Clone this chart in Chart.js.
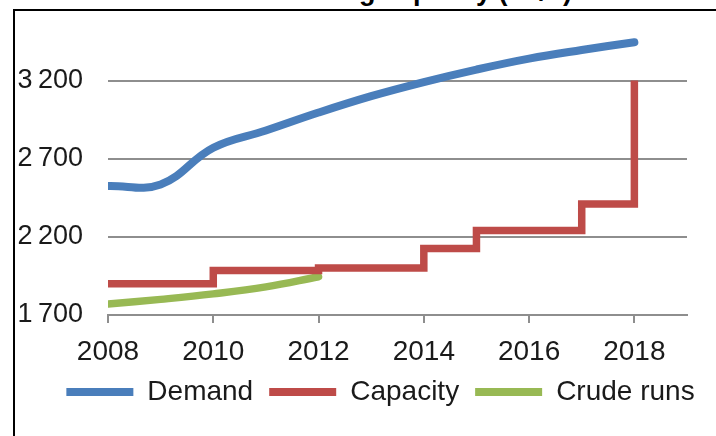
<!DOCTYPE html>
<html>
<head>
<meta charset="utf-8">
<script src="https://cdn.jsdelivr.net/npm/chart.js@4"></script>
<style>
  html, body { margin:0; padding:0; background:#fff; overflow:hidden; }
  #wrap { position:relative; width:716px; height:436px; overflow:hidden; }
  #title { position:absolute; left:107px; top:-22px; white-space:nowrap;
           font:bold 27px "Liberation Sans", Arial, sans-serif; line-height:27px; color:#000; }
  #frame { position:absolute; left:13px; top:9px; width:800px; height:600px;
           border-left:2px solid #000; border-top:2px solid #000; pointer-events:none; }
  canvas { position:absolute; left:0; top:0; }
</style>
</head>
<body>
<div id="wrap">
  <div id="title">Demand and refining capacity (kb/d)</div>
  <canvas id="chart" width="716" height="436"></canvas>
  <div id="frame"></div>
</div>
<script>
// valeurs
const years = [2008, 2009, 2010, 2011, 2012, 2013, 2014, 2015, 2016, 2017, 2018];
const demand = [2525, 2535, 2770, 2880, 2995, 3100, 3190, 3270, 3340, 3395, 3445];
const capacity = [1900, 1900, 1985, 1985, 2000, 2000, 2125, 2240, 2240, 2410, 3200];
const crudeRuns = [1770, 1800, 1835, 1880, 1945];
const xTicks = [2008, 2010, 2012, 2014, 2016, 2018];
const yTicks = [1700, 2200, 2700, 3200];

const fontName = '"Liberation Sans", Arial, sans-serif';
const textColor = '#1a1a1a';
const gridColor = '#8e8e8e';

function pts(vals){
    return vals.map((v,i)=>({x: years[i], y: v}));
}

function fmt(v){
    return String(v).replace(/\B(?=(\d{3})+$)/g, '\u2009');
}

// décale la légende vers la droite comme sur l'original
const legendShift = {
    id: 'legendShift',
    afterLayout(c){
        if(!c.legend) return;
        c.legend.left += 37;
        c.legend.right += 37;
    }
};

let ctx = document.getElementById('chart').getContext('2d');
let chart = new Chart(ctx, {
    type: 'line',
    data: {
        datasets: [
            { label: 'Demand', data: pts(demand), borderColor: '#4A7EBB', borderWidth: 8,
              tension: 0.4, pointRadius: 0, borderCapStyle: 'round' },
            { label: 'Capacity', data: pts(capacity), borderColor: '#BE4B48', borderWidth: 7.5,
              stepped: true, pointRadius: 0, borderJoinStyle: 'miter' },
            { label: 'Crude runs', data: pts(crudeRuns), borderColor: '#98B954', borderWidth: 7.5,
              tension: 0.4, pointRadius: 0, borderCapStyle: 'round' }
        ]
    },
    plugins: [legendShift],
    options: {
        animation: false,
        responsive: false,
        events: [],
        layout: { padding: { left: 0, right: 29, top: 18, bottom: 20 } },
        scales: {
            x: {
                type: 'linear', min: 2008, max: 2019,
                afterBuildTicks: s => { s.ticks = xTicks.map(v => ({value: v})); },
                afterFit: s => { s.height = 47; },
                grid: { drawOnChartArea: false, drawTicks: true, tickLength: 8, color: gridColor, lineWidth: 2 },
                border: { display: true, color: gridColor, width: 2 },
                ticks: { padding: 12, color: textColor, maxRotation: 0,
                         font: { family: fontName, size: 28 }, callback: v => String(v) }
            },
            y: {
                min: 1700, max: 3600,
                afterBuildTicks: s => { s.ticks = yTicks.map(v => ({value: v})); },
                afterFit: s => { s.width = 108; s.paddingTop = 0; s.paddingBottom = 0; },
                grid: { drawTicks: false, color: gridColor, lineWidth: 2 },
                border: { display: false },
                ticks: { padding: 25, color: textColor,
                         font: { family: fontName, size: 27 }, callback: v => fmt(v) }
            }
        },
        plugins: {
            tooltip: { enabled: false },
            title: { display: false },
            legend: {
                position: 'bottom',
                labels: {
                    boxWidth: 67, boxHeight: 8, padding: 16, color: textColor,
                    font: { family: fontName, size: 28 },
                    generateLabels: c => c.data.datasets.map((d,i)=>({
                        text: d.label, fillStyle: d.borderColor, strokeStyle: d.borderColor,
                        lineWidth: 0, datasetIndex: i, fontColor: textColor
                    }))
                }
            }
        }
    }
});
</script>
</body>
</html>
